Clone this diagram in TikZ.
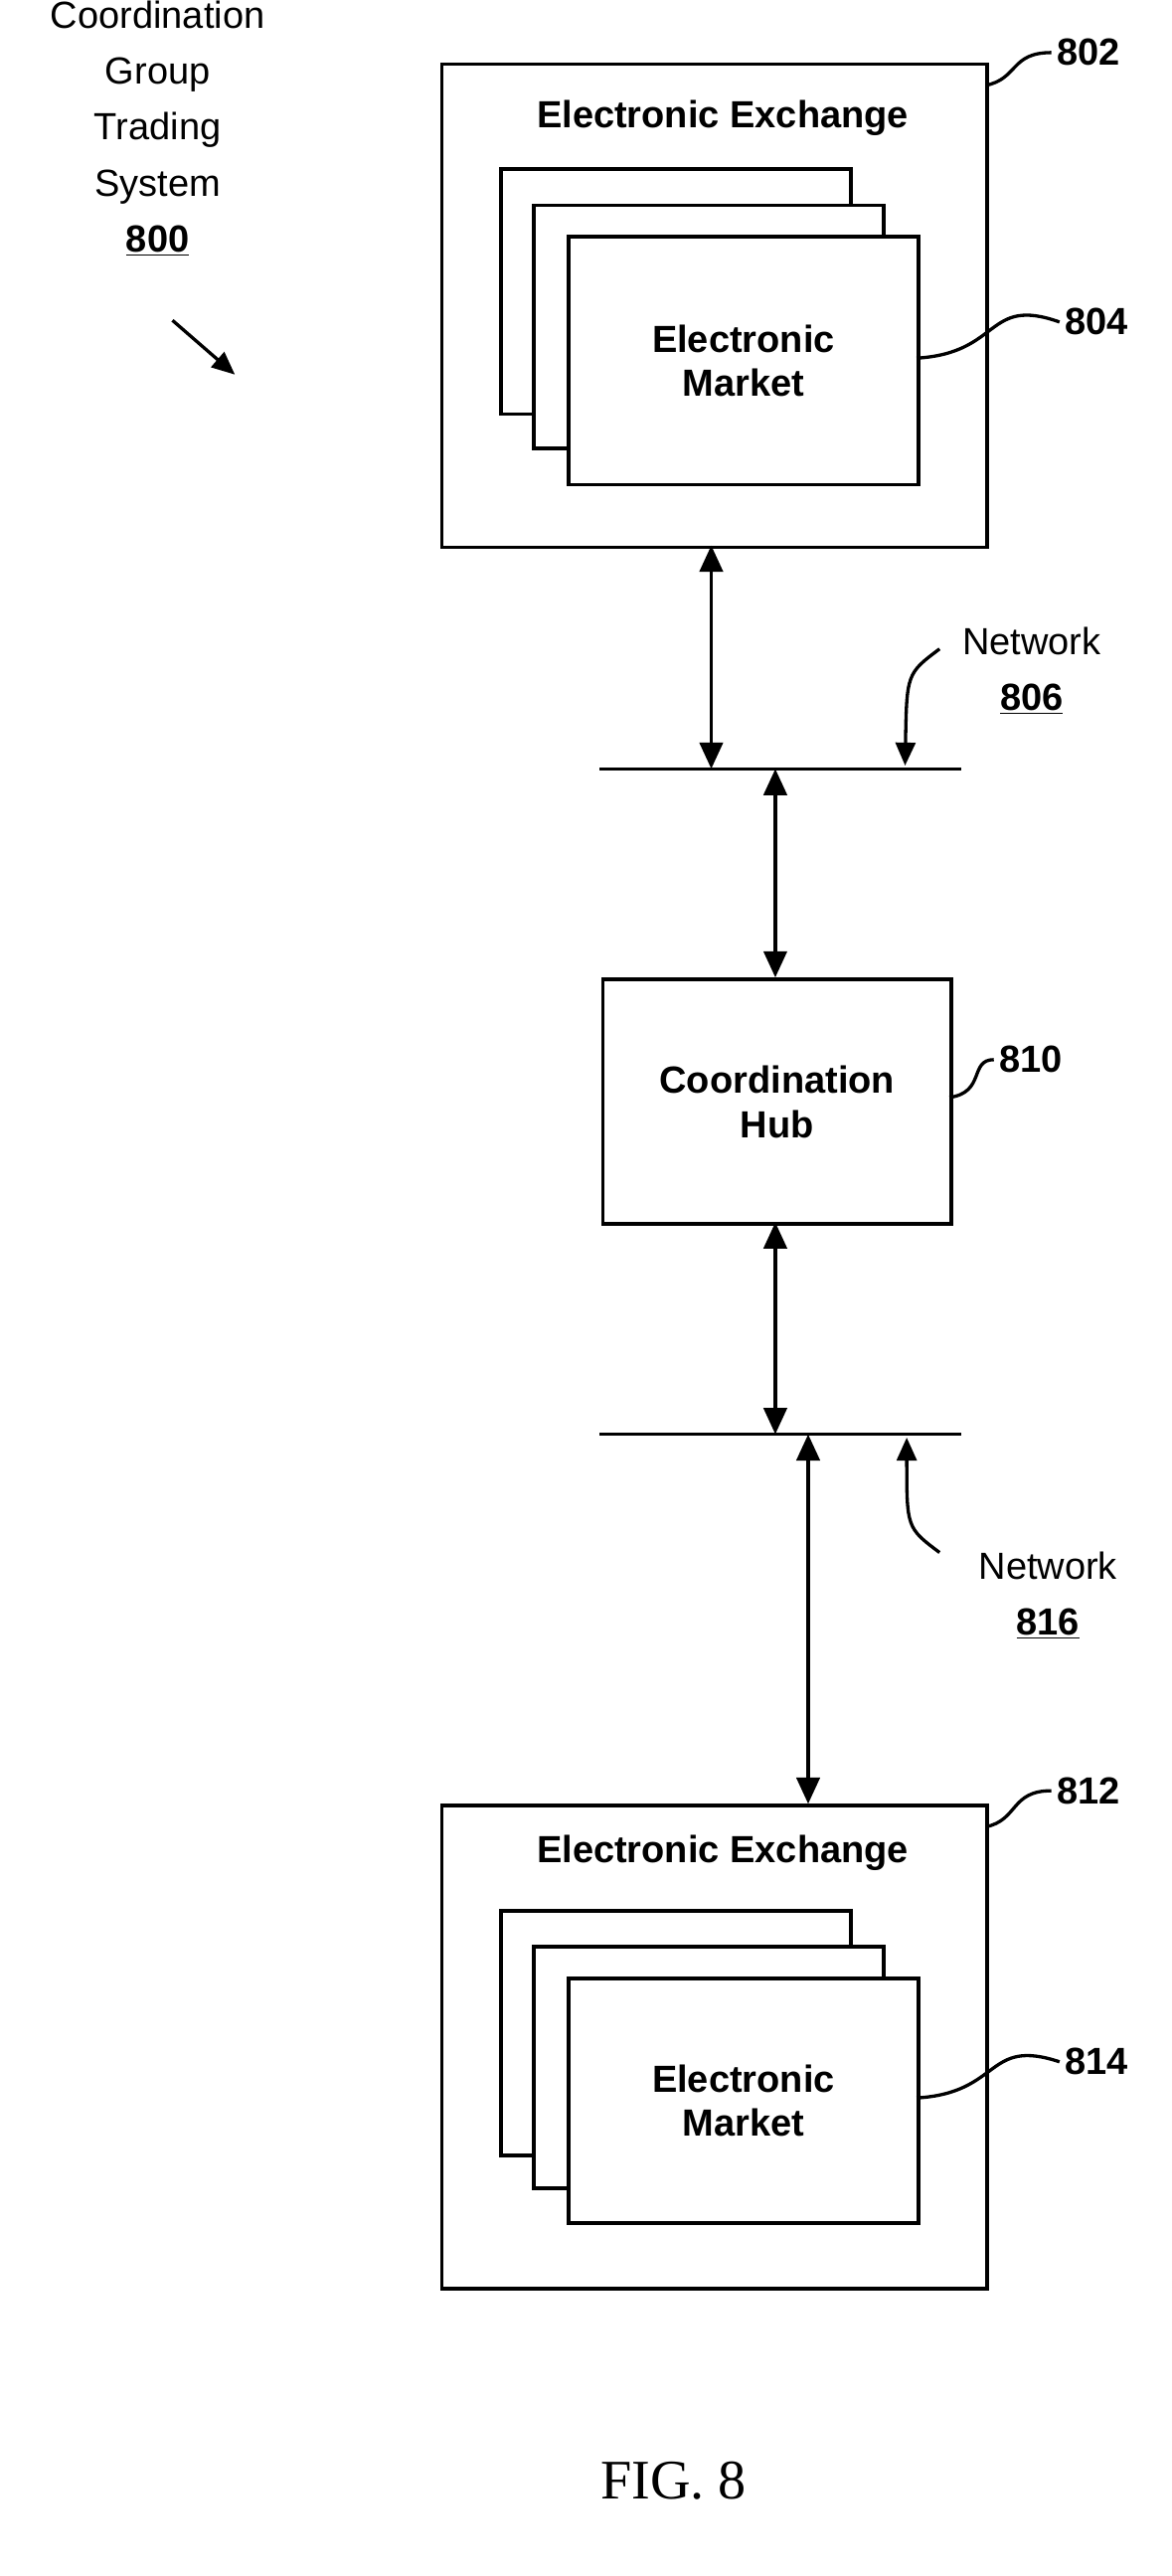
\documentclass[tikz,border=0pt]{standalone}
\usepackage{fontspec}
\setmainfont{Liberation Sans}
\newfontfamily\figfont{Liberation Serif}
\usetikzlibrary{arrows.meta}
\begin{document}
\begin{tikzpicture}[x=1pt,y=-1pt,
  box/.style={draw,line width=2.2pt,fill=white},
  lbl/.style={font=\fontsize{23}{27}\selectfont\bfseries,align=center},
  txt/.style={font=\fontsize{23}{34}\selectfont,align=center},
  dbl/.style={line width=2.4pt,{Triangle[length=16pt,width=14pt]}-{Triangle[length=16pt,width=14pt]}},
  lead/.style={line width=2pt},
  ptr/.style={line width=2pt,-{Triangle[length=14pt,width=12pt]}}]
\useasboundingbox (0,0) rectangle (713,1568);
% top-left label
\node[txt] (sys) at (96,78) {Coordination\\Group\\Trading\\System\\\textbf{\underline{800}}};
\coordinate (s1) at (105,195); \coordinate (s2) at (143,228);
\draw[ptr] (s1) -- (s2);
% top exchange
\node[box,minimum width=332,minimum height=294,anchor=north west] (ex1) at (268,38) {};
\node[lbl] (ex1t) at (440,72) {Electronic Exchange};
\draw[box] (305,103) rectangle (518,252);
\draw[box] (325,125) rectangle (538,273);
\node[box,minimum width=213,minimum height=151,anchor=north west,lbl] (m1) at (345,143) {Electronic\\Market};
\node[lbl,anchor=west] (l802) at (640,32) {802};
\draw[lead] (600,52) .. controls (620,48) and (615,32) .. (l802.west);
\node[lbl,anchor=west] (l804) at (645,196) {804};
\draw[lead] (558,218) .. controls (610,215) and (600,180) .. (l804.west);
% network 806
\coordinate (n1a) at (365,468); \coordinate (n1b) at (585,468);
\draw[line width=2pt] (n1a) -- (n1b);
\node[txt] (net1) at (628,408) {Network\\\textbf{\underline{806}}};
\coordinate (p1) at (572,395); \coordinate (p1e) at (551,466);
\draw[ptr] (p1) .. controls (552,410) .. (p1e);
\draw[dbl] (433,332) -- (433,468);
\draw[dbl] (472,468) -- (472,595);
% hub
\node[box,minimum width=212,minimum height=149,anchor=north west] (hub) at (366,595) {};
\node[lbl] at (hub.center) {Coordination\\Hub};
\node[lbl,anchor=west] (l810) at (605,645) {810};
\draw[lead] (578,668) .. controls (600,665) and (590,645) .. (l810.west);
\draw[dbl] (472,744) -- (472,873);
% network 816
\draw[line width=2pt] (365,873) -- (585,873);
\node[txt] (net2) at (638,971) {Network\\\textbf{\underline{816}}};
\coordinate (p2) at (572,945); \coordinate (p2e) at (552,875);
\draw[ptr] (p2) .. controls (552,930) .. (p2e);
\draw[dbl] (492,873) -- (492,1098);
% bottom exchange
\node[box,minimum width=332,minimum height=294,anchor=north west] (ex2) at (268,1098) {};
\node[lbl] (ex2t) at (440,1128) {Electronic Exchange};
\draw[box] (305,1163) rectangle (518,1312);
\draw[box] (325,1185) rectangle (538,1332);
\node[box,minimum width=213,minimum height=149,anchor=north west,lbl] (m2) at (345,1203) {Electronic\\Market};
\node[lbl,anchor=west] (l812) at (640,1090) {812};
\draw[lead] (600,1112) .. controls (620,1108) and (615,1090) .. (l812.west);
\node[lbl,anchor=west] (l814) at (645,1255) {814};
\draw[lead] (558,1277) .. controls (610,1274) and (600,1240) .. (l814.west);
\node[font=\figfont\fontsize{34}{40}\selectfont] (fig) at (410,1510) {FIG. 8};
\end{tikzpicture}
\end{document}
